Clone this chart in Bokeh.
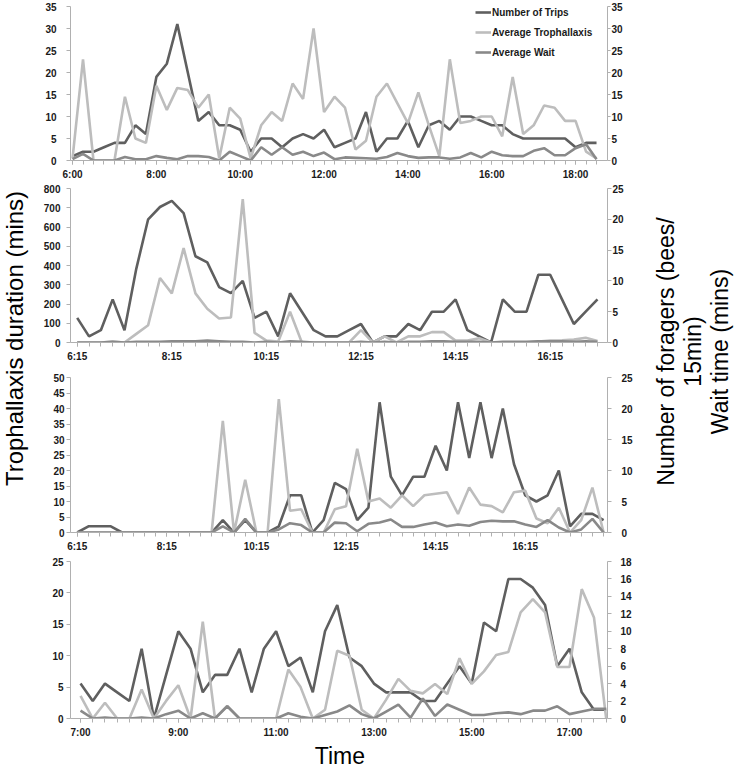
from math import pi
from bokeh.plotting import figure
from bokeh.models import Range1d, LinearAxis, FixedTicker, Legend, LegendItem
from bokeh.layouts import row, column
from bokeh.core.properties import value
from bokeh.embed import file_html
from bokeh.resources import INLINE

FONT = "Liberation Sans"
C_TRIPS = "#5f5f5f"
C_TROPH = "#bdbdbd"
C_WAIT = "#898989"
AXC = "#b0b0b0"

# ---------------- data (15-minute intervals) ----------------
start1 = "6:00"
trips1 = [1, 2, 2, 3, 4, 4, 8, 6, 19, 22, 31, 20, 9, 11, 8, 8, 7, 2, 5, 5,
          3, 5, 6, 5, 7, 3, 4, 5, 11, 2, 5, 5, 9, 3, 8, 9, 7, 10, 10, 9,
          8, 8, 6, 5, 5, 5, 5, 5, 3, 4, 4]
troph1 = [0.5, 23, 0, 0, 0, 14.5, 5, 4, 17, 11.5, 16.5, 16, 12, 15, 0.5, 12, 9.5, 0.5, 8, 11,
          9, 17.5, 14, 30, 11, 14.5, 12, 2.5, 4.5, 14.5, 17.5, 13, 8.5, 15.5, 8, 1, 23, 8.5, 9, 10,
          10, 5.5, 19, 6, 8, 12.5, 12, 9, 9, 2, 0.5]
wait1 = [0.3, 1.5, 0, 0, 0, 0.8, 0.3, 0.3, 1, 0.6, 0.3, 1, 1, 0.8, 0, 2, 1, 0, 3, 1.3,
         3, 1.3, 2, 1, 1.8, 0.3, 0.7, 0.6, 0.5, 0.4, 0.8, 1.7, 1, 0.6, 0.7, 0.7, 0.4, 0.7, 1.7, 0.7,
         2, 1.2, 1, 1, 2.2, 2.8, 1.2, 1.2, 2.8, 3.7, 0.3]

start2 = "6:15"
trips2 = [4, 1, 2, 7, 2, 12, 20, 22, 23, 21, 14, 13, 9, 8, 10, 4, 5, 1, 8, 5,
          2, 1, 1, 2, 3, 0, 1, 1, 3, 2, 5, 5, 7, 2, 1, 0, 7, 5, 5, 11,
          11, 7, 3, 5, 7]
troph2 = [0, 0, 0, 5, 0, 45, 90, 335, 255, 490, 255, 175, 125, 130, 745, 50, 10, 5, 160, 0,
          0, 0, 0, 0, 64, 0, 32, 0, 32, 32, 54, 54, 10, 10, 22, 0, 0, 0, 0, 5,
          10, 12, 15, 25, 8]
wait2 = [0, 0, 0, 0.1, 0, 0.1, 0.1, 0.1, 0.2, 0.2, 0.2, 0.3, 0.2, 0.1, 0.1, 0, 0.1, 0, 0.2, 0.1,
         0, 0, 0, 0, 0.1, 0, 0.1, 0, 0.1, 0.1, 0.2, 0.2, 0.1, 0.1, 0.1, 0, 0.1, 0.1, 0.1, 0.2,
         0.2, 0.2, 0.1, 0.2, 0.1]

start3 = "6:15"
trips3 = [0, 1, 1, 1, 0, 0, 0, 0, 0, 0, 0, 0, 0, 2, 0, 2, 0, 0, 1, 6,
          6, 0, 2, 8, 7, 2, 4, 21, 9, 6, 9, 9, 14, 10, 21, 12, 21, 12, 20, 11,
          6, 5, 6, 10, 1, 3, 3, 2]
troph3 = [0, 0, 0, 0, 0, 0, 0, 0, 0, 0, 0, 0, 0, 36, 0, 17, 0, 0, 43, 7,
          7.5, 0, 0, 7.5, 8.5, 27, 10, 11, 8, 12, 8.5, 12, 12.5, 13, 6, 14.5, 9, 8.5, 6.5, 13,
          13.5, 4.5, 3, 8, 0, 4, 14.5, 0]
wait3 = [0, 0, 0, 0, 0, 0, 0, 0, 0, 0, 0, 0, 0, 1, 0, 2.2, 0, 0, 0.5, 1.5,
         1.2, 0, 0, 1.6, 1.5, 0.2, 1.4, 1.6, 2.1, 0.9, 0.9, 1.3, 1.6, 1, 1.3, 1.1, 1.7, 1.9, 1.8, 1.8,
         1.3, 0.9, 2, 0.8, 0, 0.5, 2.2, 0]

start4 = "7:00"
trips4 = [4, 2, 4, 3, 2, 8, 0, 5, 10, 8, 3, 5, 5, 8, 3, 8, 10, 6, 7, 3,
          10, 13, 7, 6, 4, 3, 3, 3, 2, 2, 4, 6, 4, 11, 10, 16, 16, 15, 13, 6,
          8, 3, 1, 1]
troph4 = [3.6, 0, 2.5, 0, 0, 4.6, 0, 2.8, 5.3, 0, 15.4, 0, 2, 0, 0, 0, 0, 7.8, 5, 0,
          1.4, 10.8, 10, 1.4, 0, 3, 6.3, 4.4, 4, 5.5, 3.9, 9.6, 5.5, 7.5, 10.1, 10.6, 16.9, 19, 16.9, 8.2,
          8.2, 20.6, 16.1, 0]
wait4 = [0.9, 0, 0.1, 0, 0, 0.1, 0, 0.5, 0.9, 0, 0.6, 0, 1.4, 0, 0, 0, 0, 0.6, 0.2, 0,
         0.4, 0.8, 1.5, 0.5, 0, 0.8, 1.6, 0.1, 2.3, 0.3, 1.6, 1, 0.4, 0.4, 0.6, 0.7, 0.5, 0.9, 0.9, 1.4,
         0.5, 0.8, 1.1, 1.1]

xt1 = ["6:00", "8:00", "10:00", "12:00", "14:00", "16:00", "18:00"]
xt2 = ["6:15", "8:15", "10:15", "12:15", "14:15", "16:15"]
xt3 = ["6:15", "8:15", "10:15", "12:15", "14:15", "16:15"]
xt4 = ["7:00", "9:00", "11:00", "13:00", "15:00", "17:00"]

yl1 = [0, 5, 10, 15, 20, 25, 30, 35]
yr1 = [0, 5, 10, 15, 20, 25, 30, 35]
yl2 = [0, 100, 200, 300, 400, 500, 600, 700, 800]
yr2 = [0, 5, 10, 15, 20, 25]
yl3 = [0, 5, 10, 15, 20, 25, 30, 35, 40, 45, 50]
yr3 = [0, 5, 10, 15, 20, 25]
yl4 = [0, 5, 10, 15, 20, 25]
yr4 = [0, 2, 4, 6, 8, 10, 12, 14, 16, 18]

series_names = ["Number of Trips", "Average Trophallaxis", "Average Wait"]

BL, BR = 32, 33  # common frame borders inside the 602-px column


def to_min(s):
    h, m = s.split(":")
    return int(h) * 60 + int(m)


def slots(start, n):
    return [to_min(start) + 15 * i for i in range(n)]


def style_axis(ax, standoff, tick_out=4):
    ax.axis_line_color = AXC
    ax.major_tick_line_color = AXC
    ax.minor_tick_line_color = AXC
    ax.major_tick_out = tick_out
    ax.major_tick_in = 0
    ax.minor_tick_in = 0
    ax.major_label_standoff = standoff
    ax.major_label_text_font = FONT
    ax.major_label_text_font_size = "10px"
    ax.major_label_text_font_style = "bold"
    ax.major_label_text_color = "#1a1a1a"


def make_panel(start, trips, troph, wait, xt, yl, yr, xr, h, bt, bb,
               sl, sr, tr_out=4, legend=False):
    xs = slots(start, len(trips))
    p = figure(width=602, height=h, x_range=Range1d(*xr),
               y_range=Range1d(yl[0], yl[-1]), output_backend="svg",
               toolbar_location=None, min_border_left=BL, min_border_right=BR,
               min_border_top=bt, min_border_bottom=bb)
    p.extra_y_ranges = {"r": Range1d(yr[0], yr[-1])}
    p.add_layout(LinearAxis(y_range_name="r"), "right")
    p.grid.visible = False
    p.outline_line_color = None

    r1 = p.line(xs, trips, y_range_name="r", line_color=C_TRIPS, line_width=2.6)
    r2 = p.line(xs, troph, line_color=C_TROPH, line_width=2.6)
    r3 = p.line(xs, wait, y_range_name="r", line_color=C_WAIT, line_width=2.6)

    xa = p.xaxis[0]
    major = [to_min(s) for s in xt]
    xa.ticker = FixedTicker(ticks=major, minor_ticks=xs)
    xa.major_label_overrides = {to_min(s): s for s in xt}
    style_axis(xa, 4)
    xa.minor_tick_out = 4

    la = p.yaxis[0]
    la.ticker = FixedTicker(ticks=yl)
    style_axis(la, sl)
    la.minor_tick_line_color = None

    ra = p.yaxis[1]
    ra.ticker = FixedTicker(ticks=yr)
    style_axis(ra, sr, tr_out)
    ra.minor_tick_line_color = None

    if legend:
        lg = Legend(items=[LegendItem(label=series_names[0], renderers=[r1]),
                           LegendItem(label=series_names[1], renderers=[r2]),
                           LegendItem(label=series_names[2], renderers=[r3])],
                    location=(405, 101), orientation="vertical",
                    glyph_width=16, glyph_height=14, label_height=14,
                    label_standoff=1, spacing=6, padding=0, margin=0,
                    border_line_color=None, background_fill_alpha=0,
                    label_text_font=FONT, label_text_font_size="10px",
                    label_text_font_style="bold", label_text_color="#1a1a1a")
        p.add_layout(lg, "center")
    return p


f1 = make_panel(start1, trips1, troph1, wait1, xt1, yl1, yr1, (357.1, 1125.7),
                182, 6, 21, 10, 1, tr_out=3, legend=True)
f2 = make_panel(start2, trips2, troph2, wait2, xt2, yl2, yr2, (366.5, 1047.7),
                182, 6, 22, 6, 1)
f3 = make_panel(start3, trips3, troph3, wait3, xt3, yl3, yr3, (366.0, 1085.2),
                190, 13, 22, 2, 10)
f4 = make_panel(start4, trips4, troph4, wait4, xt4, yl4, yr4, (407.7, 1066.6),
                188, 7, 24, 3, 9)


def blank(w, h):
    b = figure(width=w, height=h, x_range=Range1d(0, w), y_range=Range1d(0, h),
               x_axis_type=None, y_axis_type=None, output_backend="svg",
               toolbar_location=None, min_border=0)
    b.grid.visible = False
    b.outline_line_color = None
    return b


TOTAL_H = 768

ftime = blank(602, 26)
ftime.text(x=[302], y=[13], text=["Time"], text_align="center",
           text_baseline="middle", text_font=value(FONT),
           text_font_size="23px", text_color="black")

fleft = blank(38, TOTAL_H)
fleft.text(x=[14], y=[TOTAL_H - 338], text=["Trophallaxis duration (mins)"], angle=pi / 2,
           text_align="center", text_baseline="middle", text_font=value(FONT),
           text_font_size="24px", text_color="black")

fright = blank(96, TOTAL_H)
fright.text(x=[25, 52, 79], y=[TOTAL_H - 351] * 3,
            text=["Number of foragers (bees/", "15min)", "Wait time (mins)"],
            angle=pi / 2, text_align="center", text_baseline="middle",
            text_font=value(FONT), text_font_size="23px", text_color="black")

layout = row(fleft, column(f1, f2, f3, f4, ftime), fright)

open("out.html", "w").write(file_html(layout, INLINE))
